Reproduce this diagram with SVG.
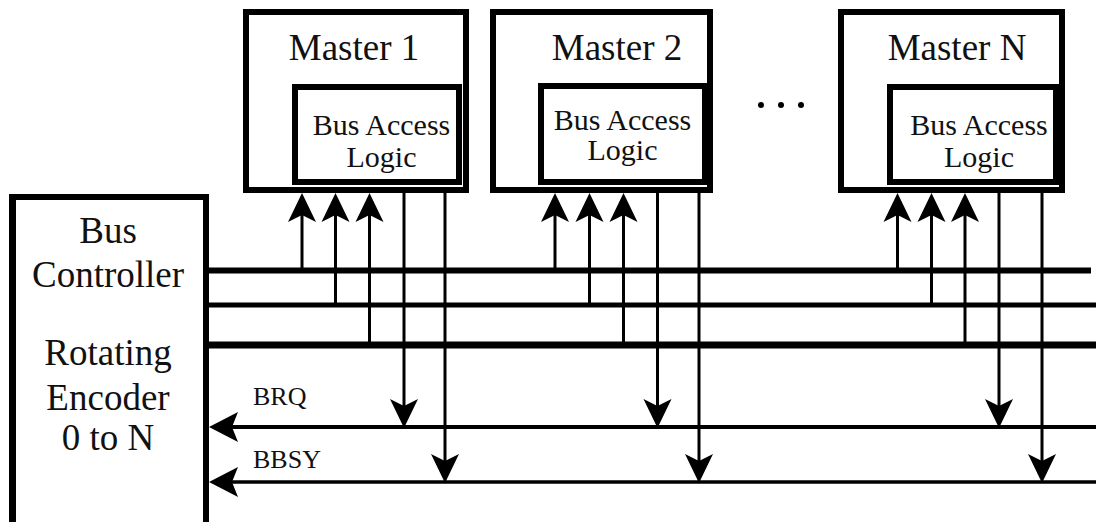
<svg xmlns="http://www.w3.org/2000/svg" xmlns:xlink="http://www.w3.org/1999/xlink" width="1096" height="522" viewBox="0 0 1096 522">
<style>
.box{fill:none;stroke:#000;stroke-width:6}
text{font-family:'Liberation Serif','Times New Roman',Times,'DejaVu Serif',serif;fill:#111}
.big{font-size:37px;text-anchor:middle}
.mid{font-size:30px;text-anchor:middle}
.lab{font-size:26px}
.v{stroke:#000;stroke-width:3;fill:none}
.bus{stroke:#000;fill:none}
</style>
<defs>
<path id="ah-up" d="M0,0 L-14,29 L0,22 L14,29 Z" fill="#000"/>
<path id="ah-down" d="M0,0 L-14,-29 L0,-22 L14,-29 Z" fill="#000"/>
<path id="ah-left" d="M0,0 L29,-15 L23,0 L29,15 Z" fill="#000"/>
</defs>
<rect width="1096" height="522" fill="#fff"/>
<g id="connectors">
<line class="bus" x1="204" y1="270.5" x2="1091" y2="270.5" stroke-width="6"/>
<line class="bus" x1="204" y1="305" x2="1096" y2="305" stroke-width="5"/>
<line class="bus" x1="204" y1="345" x2="1096" y2="345" stroke-width="7"/>
<line class="bus" x1="230" y1="427" x2="1096" y2="427" stroke-width="4"/>
<line class="bus" x1="230" y1="482" x2="1096" y2="482" stroke-width="3.5"/>
<use xlink:href="#ah-left" x="209" y="427"/>
<use xlink:href="#ah-left" x="209" y="482"/>
<line class="v" x1="302" y1="270" x2="302" y2="215"/>
<line class="v" x1="335.5" y1="305" x2="335.5" y2="215"/>
<line class="v" x1="369.5" y1="345" x2="369.5" y2="215"/>
<use xlink:href="#ah-up" x="302" y="193"/>
<use xlink:href="#ah-up" x="335.5" y="193"/>
<use xlink:href="#ah-up" x="369.5" y="193"/>
<line class="v" x1="404" y1="193" x2="404" y2="410"/>
<line class="v" x1="445" y1="193" x2="445" y2="465"/>
<use xlink:href="#ah-down" x="404" y="428"/>
<use xlink:href="#ah-down" x="445" y="483"/>
<line class="v" x1="555" y1="270" x2="555" y2="215"/>
<line class="v" x1="589.5" y1="305" x2="589.5" y2="215"/>
<line class="v" x1="623.5" y1="345" x2="623.5" y2="215"/>
<use xlink:href="#ah-up" x="555" y="193"/>
<use xlink:href="#ah-up" x="589.5" y="193"/>
<use xlink:href="#ah-up" x="623.5" y="193"/>
<line class="v" x1="657.5" y1="193" x2="657.5" y2="410"/>
<line class="v" x1="699" y1="193" x2="699" y2="465"/>
<use xlink:href="#ah-down" x="657.5" y="428"/>
<use xlink:href="#ah-down" x="699" y="483"/>
<line class="v" x1="897.5" y1="270" x2="897.5" y2="215"/>
<line class="v" x1="931.5" y1="305" x2="931.5" y2="215"/>
<line class="v" x1="965" y1="345" x2="965" y2="215"/>
<use xlink:href="#ah-up" x="897.5" y="193"/>
<use xlink:href="#ah-up" x="931.5" y="193"/>
<use xlink:href="#ah-up" x="965" y="193"/>
<line class="v" x1="999" y1="193" x2="999" y2="410"/>
<line class="v" x1="1042" y1="193" x2="1042" y2="465"/>
<use xlink:href="#ah-down" x="999" y="428"/>
<use xlink:href="#ah-down" x="1042" y="483"/>
</g>
<g id="bus-controller">
<rect class="box" x="13" y="197" width="193" height="345"/>
<line x1="11" y1="194" x2="11" y2="522" stroke="#000" stroke-width="4"/>
<text class="big" x="108" y="243">Bus</text>
<text class="big" x="108" y="287">Controller</text>
<text class="big" x="108" y="365">Rotating</text>
<text class="big" x="108" y="410">Encoder</text>
<text class="big" x="108" y="450">0 to N</text>
</g>
<g id="master-1">
<rect class="box" x="246" y="12" width="220" height="178"/>
<text class="big" x="354" y="60">Master 1</text>
<g id="bal-1">
<rect class="box" x="295" y="87" width="164" height="95"/>
<text class="mid" x="381.5" y="135">Bus Access</text>
<text class="mid" x="381.5" y="167">Logic</text>
</g>
</g>
<g id="master-2">
<rect class="box" x="493" y="12" width="217" height="178"/>
<text class="big" x="617" y="60">Master 2</text>
<g id="bal-2">
<rect class="box" x="541" y="86" width="164" height="96"/>
<text class="mid" x="622.5" y="130">Bus Access</text>
<text class="mid" x="622.5" y="160">Logic</text>
</g>
</g>
<g id="ellipsis">
<circle cx="761" cy="105" r="3"/>
<circle cx="781" cy="105" r="3"/>
<circle cx="801" cy="105" r="3"/>
</g>
<g id="master-n">
<rect class="box" x="841" y="12" width="221" height="178"/>
<text class="big" x="957" y="60">Master N</text>
<g id="bal-n">
<rect class="box" x="890" y="87" width="166" height="95"/>
<text class="mid" x="979" y="135">Bus Access</text>
<text class="mid" x="979" y="167">Logic</text>
</g>
</g>
<g id="labels">
<text class="lab" x="253" y="405">BRQ</text>
<text class="lab" x="253" y="468">BBSY</text>
</g>
</svg>
